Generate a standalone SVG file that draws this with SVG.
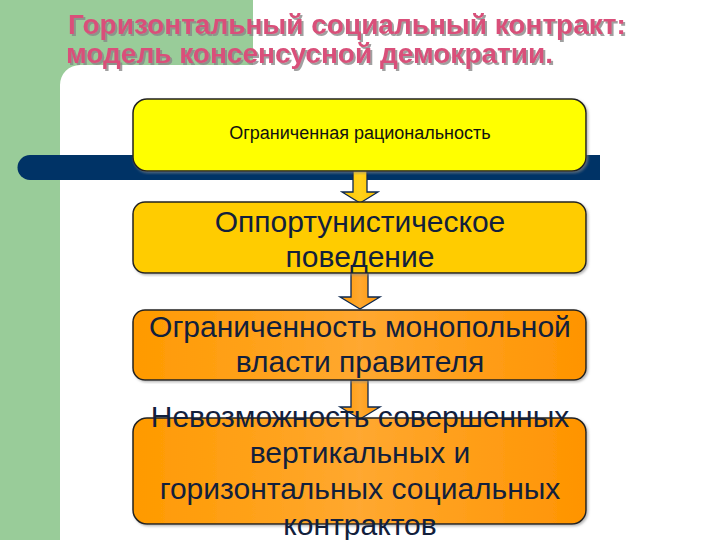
<svg xmlns="http://www.w3.org/2000/svg" width="720" height="540" viewBox="0 0 720 540">
<defs>
<linearGradient id="gOr" x1="0" y1="0" x2="1" y2="0">
<stop offset="0" stop-color="#FF9A00"/><stop offset="0.5" stop-color="#FFA830"/><stop offset="1" stop-color="#FF9400"/>
</linearGradient>
<linearGradient id="gGold" x1="0" y1="0" x2="1" y2="0">
<stop offset="0" stop-color="#FFC600"/><stop offset="0.5" stop-color="#FFD21A"/><stop offset="1" stop-color="#FFC000"/>
</linearGradient>
<filter id="sh" x="-5%" y="-5%" width="110%" height="110%">
<feDropShadow dx="1.5" dy="1.5" stdDeviation="0.8" flood-color="#888" flood-opacity="0.6"/>
</filter>
<filter id="tsh" x="-5%" y="-20%" width="110%" height="140%">
<feDropShadow dx="2" dy="2" stdDeviation="0.6" flood-color="#888" flood-opacity="0.8"/>
</filter>
</defs>
<style>
.box{stroke:#222;stroke-width:1.5}
.arr{stroke:#0B2750;stroke-width:1.3;stroke-linejoin:miter}
.title{font-family:"Liberation Sans",Arial,sans-serif;font-weight:bold;font-size:28px;fill:#D9507A}
.big{font-family:"Liberation Sans",Arial,sans-serif;font-size:30px;fill:#12203C;text-anchor:middle}
.small{font-family:"Liberation Sans Narrow","Liberation Sans",Arial,sans-serif;font-size:18px;fill:#111;text-anchor:middle}
</style>
<rect x="0" y="0" width="720" height="540" fill="#FFFFFF"/>
<g id="background">
<rect x="0" y="0" width="60" height="540" fill="#99CC99"/>
<path d="M0 0 H253 V65 H80 A20 20 0 0 0 60 85 V540 H0 Z" fill="#99CC99"/>
<path d="M30 155 H600 V180 H30 A12.5 12.5 0 0 1 30 155 Z" fill="#003366"/>
</g>
<g id="title" filter="url(#tsh)">
<text class="title" x="68" y="34">Горизонтальный социальный контракт:</text>
<text class="title" x="66" y="63">модель консенсусной демократии.</text>
</g>
<g id="connectors">
<path class="arr" fill="url(#gGold)" d="M353 170 H367 V192 H378 L360 203 L342 192 H353 Z"/>
<path class="arr" fill="url(#gOr)" d="M351 272 H368 V297 H380 L360 309 L340 297 H351 Z"/>
<path class="arr" fill="url(#gOr)" d="M351 380 H368 V407 H380 L360 419 L340 407 H351 Z"/>
</g>
<g id="node1">
<rect class="box" x="133" y="99" width="453" height="72" rx="14" fill="#FFFF00" filter="url(#sh)"/>
<text class="small" x="360" y="139">Ограниченная рациональность</text>
</g>
<g id="node2">
<rect class="box" x="133" y="202" width="453" height="71" rx="12" fill="#FFCC00" filter="url(#sh)"/>
<text class="big" x="360" y="232">Оппортунистическое</text>
<text class="big" x="360" y="267">поведение</text>
</g>
<g id="node3">
<rect class="box" x="133" y="310" width="453" height="70" rx="12" fill="url(#gOr)" filter="url(#sh)"/>
<text class="big" x="360" y="337">Ограниченность монопольной</text>
<text class="big" x="360" y="372">власти правителя</text>
</g>
<g id="node4">
<rect class="box" x="133" y="418" width="453" height="106" rx="14" fill="url(#gOr)" filter="url(#sh)"/>
<text class="big" x="360" y="427">Невозможность совершенных</text>
<text class="big" x="360" y="463">вертикальных и</text>
<text class="big" x="360" y="499">горизонтальных социальных</text>
<text class="big" x="360" y="535">контрактов</text>
</g>
</svg>
